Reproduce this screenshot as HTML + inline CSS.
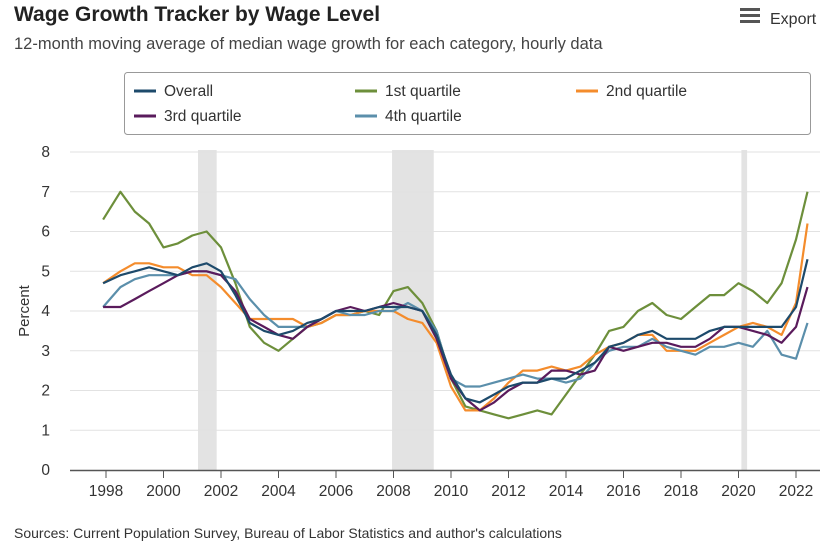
<!DOCTYPE html>
<html><head><meta charset="utf-8"><style>
body{margin:0;width:830px;height:550px;background:#fff;font-family:"Liberation Sans",sans-serif;overflow:hidden}
</style></head><body>
<svg width="830" height="550" id="c" font-family="Liberation Sans, sans-serif">
<text x="14" y="21" font-size="21" font-weight="bold" fill="#222">Wage Growth Tracker by Wage Level</text>
<text x="14" y="49" font-size="16.5" fill="#444">12-month moving average of median wage growth for each category, hourly data</text>
<g>
<rect x="740" y="8" width="20" height="3" fill="#555"/><rect x="740" y="14" width="20" height="3" fill="#555"/><rect x="740" y="20" width="20" height="3" fill="#555"/>
<text x="770" y="24" font-size="16" fill="#333">Export</text></g>
<rect x="124.5" y="72.5" width="686" height="62" rx="3" fill="#fff" stroke="#999"/>
<g id="grid"></g><g id="series"></g>
<text transform="translate(29,311) rotate(-90)" text-anchor="middle" font-size="15" fill="#333">Percent</text>
<text x="14" y="538" font-size="14" fill="#333">Sources: Current Population Survey, Bureau of Labor Statistics and author's calculations</text>
</svg>
<script>
const dates=[1997.9,1998.5,1999,1999.5,2000,2000.5,2001,2001.5,2002,2002.5,2003,2003.5,2004,2004.5,2005,2005.5,2006,2006.5,2007,2007.5,2008,2008.5,2009,2009.5,2010,2010.5,2011,2011.5,2012,2012.5,2013,2013.5,2014,2014.5,2015,2015.5,2016,2016.5,2017,2017.5,2018,2018.5,2019,2019.5,2020,2020.5,2021,2021.5,2022,2022.4];
const overall=[4.7,4.9,5.0,5.1,5.0,4.9,5.1,5.2,5.0,4.4,3.7,3.5,3.4,3.5,3.7,3.8,4.0,4.0,4.0,4.1,4.1,4.1,4.0,3.4,2.4,1.8,1.7,1.9,2.1,2.2,2.2,2.3,2.3,2.5,2.7,3.1,3.2,3.4,3.5,3.3,3.3,3.3,3.5,3.6,3.6,3.6,3.6,3.6,4.1,5.3];
const q1=[6.3,7.0,6.5,6.2,5.6,5.7,5.9,6.0,5.6,4.7,3.6,3.2,3.0,3.3,3.6,3.7,3.9,3.9,4.0,3.9,4.5,4.6,4.2,3.5,2.3,1.6,1.5,1.4,1.3,1.4,1.5,1.4,1.9,2.4,2.9,3.5,3.6,4.0,4.2,3.9,3.8,4.1,4.4,4.4,4.7,4.5,4.2,4.7,5.8,7.0];
const q2=[4.7,5.0,5.2,5.2,5.1,5.1,4.9,4.9,4.6,4.2,3.8,3.8,3.8,3.8,3.6,3.7,3.9,3.9,4.0,4.0,4.0,3.8,3.7,3.2,2.1,1.5,1.5,1.8,2.2,2.5,2.5,2.6,2.5,2.6,2.9,3.1,3.2,3.4,3.4,3.0,3.0,3.0,3.2,3.4,3.6,3.7,3.6,3.4,4.2,6.2];
const q3=[4.1,4.1,4.3,4.5,4.7,4.9,5.0,5.0,4.9,4.5,3.8,3.6,3.4,3.3,3.6,3.8,4.0,4.1,4.0,4.1,4.2,4.1,4.0,3.3,2.3,1.8,1.5,1.7,2.0,2.2,2.2,2.5,2.5,2.4,2.5,3.1,3.0,3.1,3.2,3.2,3.1,3.1,3.3,3.6,3.6,3.5,3.4,3.2,3.6,4.6];
const q4=[4.1,4.6,4.8,4.9,4.9,4.9,5.0,5.0,4.9,4.8,4.3,3.9,3.6,3.6,3.6,3.8,4.0,3.9,3.9,4.0,4.0,4.2,4.0,3.5,2.3,2.1,2.1,2.2,2.3,2.4,2.3,2.3,2.2,2.3,2.7,3.0,3.1,3.1,3.3,3.1,3.0,2.9,3.1,3.1,3.2,3.1,3.5,2.9,2.8,3.7];
const recessions=[[2001.2,2001.85],[2007.95,2009.4],[2020.1,2020.3]];
const yTicks=[0,1,2,3,4,5,6,7,8];
const xTicks=[1998,2000,2002,2004,2006,2008,2010,2012,2014,2016,2018,2020,2022];
const names=["Overall","1st quartile","2nd quartile","3rd quartile","4th quartile"];
const colors=["#1d4a6b","#6d8f3b","#f48c2c","#5a1b5c","#5b8fab"];
const data=[overall,q1,q2,q3,q4];
const X=y=>106+(y-1998)*28.75, Y=v=>470-v*39.75;
const NS="http://www.w3.org/2000/svg";
function mk(t,a,p){const e=document.createElementNS(NS,t);for(const k in a)e.setAttribute(k,a[k]);p.appendChild(e);return e;}
const g=document.getElementById('grid'), s=document.getElementById('series'), svg=document.getElementById('c');
recessions.forEach(r=>{const e=mk('rect',{x:X(r[0]),y:150,width:X(r[1])-X(r[0]),height:320,fill:'#e3e3e3'},g);

});
yTicks.forEach(v=>{if(v>0){const l=mk('line',{x1:70,x2:820,y1:Y(v),y2:Y(v),stroke:'#e2e2e2'},g);

}
const t=mk('text',{x:50,y:Y(v)+5,'font-size':15.5,fill:'#333','text-anchor':'end'},g);t.textContent=v;

});
mk('line',{x1:70,x2:820,y1:470.5,y2:470.5,stroke:'#555','stroke-width':1.5},g);
xTicks.forEach(v=>{mk('line',{x1:X(v),x2:X(v),y1:470,y2:478,stroke:'#555'},g);
const t=mk('text',{x:X(v),y:496,'font-size':15.5,fill:'#333','text-anchor':'middle'},g);t.textContent=v;

});
const order=[1,2,4,3,0];
order.forEach(i=>{const p=mk('path',{d:data[i].map((v,j)=>(j?'L':'M')+X(dates[j]).toFixed(1)+','+Y(v).toFixed(1)).join(''),fill:'none',stroke:colors[i],'stroke-width':2.2,'stroke-linejoin':'round'},s);

});
const lp=[[134,91],[355,91],[576,91],[134,116],[355,116]];
names.forEach((n,i)=>{const gg=mk('g',{},svg);


mk('line',{x1:lp[i][0],x2:lp[i][0]+22,y1:lp[i][1],y2:lp[i][1],stroke:colors[i],'stroke-width':3},gg);
const t=mk('text',{x:lp[i][0]+30,y:lp[i][1]+5,'font-size':15.5,fill:'#333'},gg);t.textContent=n;});
</script>
</body></html>
